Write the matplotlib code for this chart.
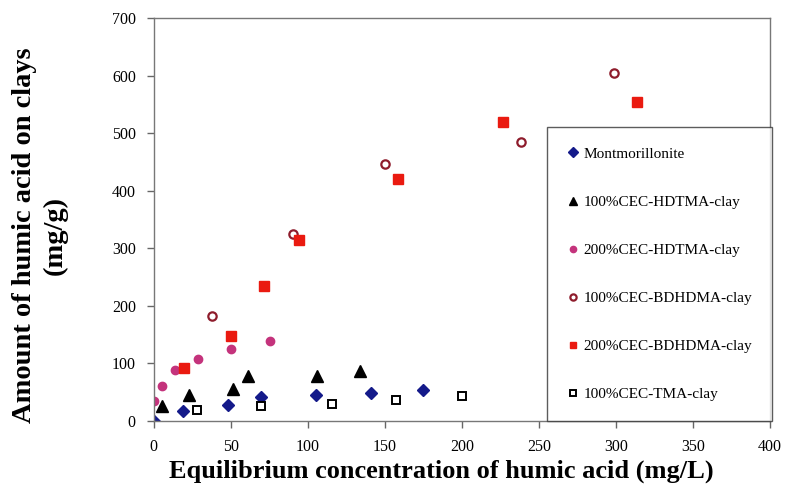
import numpy as np
import matplotlib
matplotlib.use('Agg')
import matplotlib.pyplot as plt

plt.rcParams['font.family'] = ['Liberation Serif', 'DejaVu Serif']

# Montmorillonite
mont_x = [0, 18.6, 48.2, 69.3, 105, 140.7, 174.9]
mont_y = [0, 17, 27, 42, 46, 48, 54]

# 100%CEC-HDTMA-clay
hd100_x = [5.6, 22.9, 51.5, 61.4, 106, 134]
hd100_y = [26, 46, 55, 78, 78, 87]

# 200%CEC-HDTMA-clay
hd200_x = [0.4, 5.6, 13.8, 28.9, 50.2, 75.3]
hd200_y = [34, 61, 89, 108, 124.5, 139]

# 100%CEC-BDHDMA-clay
bd100_x = [38, 90.5, 150, 238.3, 298.5]
bd100_y = [182, 324, 445.6, 484, 603.6]

# 200%CEC-BDHDMA-clay
bd200_x = [19.7, 50.4, 71.4, 94.4, 158.6, 226.4, 313.4]
bd200_y = [91.5, 147.6, 234, 314, 419.6, 518.6, 554]

# 100%CEC-TMA-clay
tma_x = [27.7, 69.5, 115.4, 157, 199.8]
tma_y = [19.6, 26, 29, 36, 43]

fig = plt.figure(figsize=(7.89, 4.93), dpi=100)
ax = fig.add_axes([0.195, 0.146, 0.781, 0.8175])

ax.plot(mont_x, mont_y, 'D', ms=6.5, color='#141a8a', ls='none', label='Montmorillonite')
ax.plot(hd100_x, hd100_y, '^', ms=8, color='black', ls='none', label='100%CEC-HDTMA-clay')
ax.plot(hd200_x, hd200_y, 'o', ms=6, color='#c4337c', ls='none', label='200%CEC-HDTMA-clay')
ax.plot(bd100_x, bd100_y, 'o', ms=6, mfc='white', mec='#8e1c2c', mew=1.6, ls='none',
        label='100%CEC-BDHDMA-clay')
ax.plot(bd200_x, bd200_y, 's', ms=6.5, color='#ea1a10', ls='none', label='200%CEC-BDHDMA-clay')
ax.plot(tma_x, tma_y, 's', ms=6, mfc='white', mec='black', mew=1.4, ls='none',
        label='100%CEC-TMA-clay')

ax.set_xlim(0, 400)
ax.set_ylim(0, 700)
ax.set_xticks(np.arange(0, 401, 50))
ax.set_yticks(np.arange(0, 701, 100))
ax.tick_params(direction='out', length=5, width=1, colors='#666666', labelcolor='black',
               labelsize=11.5, pad=8)
for sp in ax.spines.values():
    sp.set_color('#777777')
    sp.set_linewidth(1)

# axis titles
fig.text(0.559, 0.045, 'Equilibrium concentration of humic acid (mg/L)', fontsize=19,
         fontweight='bold', ha='center', va='center')
fig.text(0.031, 0.523, 'Amount of humic acid on clays', rotation=90, fontsize=20.5,
         fontweight='bold', ha='center', va='center')
fig.text(0.07, 0.523, '(mg/g)', rotation=90, fontsize=20.5,
         fontweight='bold', ha='center', va='center')

leg = ax.legend(loc='lower right', bbox_to_anchor=(1.003, 0), borderaxespad=0,
                fontsize=11, labelspacing=2.25, handletextpad=0.3, handlelength=0.8,
                borderpad=1.3, frameon=True, fancybox=False, markerscale=0.75)
leg.get_frame().set_edgecolor('#333333')
leg.get_frame().set_linewidth(1)

fig.savefig('out.png', dpi=100)
